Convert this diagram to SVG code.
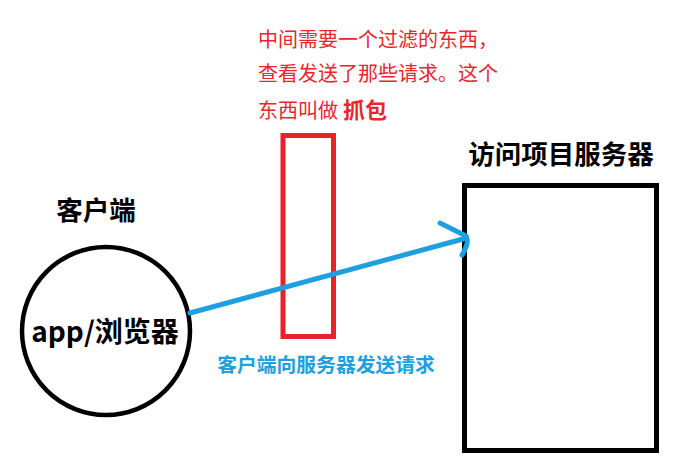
<svg xmlns="http://www.w3.org/2000/svg" width="698" height="471" viewBox="0 0 698 471">
<style>
  text { font-family: "Noto Sans CJK SC", "Noto Sans", sans-serif; }
  .note { fill: #e8262e; font-size: 20px; }
  .title { fill: #000; font-size: 26.5px; font-weight: bold; }
  .blue { fill: #1ea0e0; font-size: 19.8px; font-weight: bold; }
</style>
<rect width="698" height="471" fill="#fff"/>
<g id="note">
  <text class="note" x="258" y="47">中间需要一个过滤的东西，</text>
  <text class="note" x="258" y="81">查看发送了那些请求。这个</text>
  <text class="note" x="258" y="118">东西叫做</text>
  <text class="note" x="343" y="118" style="font-weight:bold;font-size:22px">抓包</text>
</g>
<g id="filter">
  <rect x="283" y="135.5" width="50.5" height="201" fill="none" stroke="#e8222a" stroke-width="5"/>
</g>
<g id="client">
  <text class="title" x="96" y="220" text-anchor="middle">客户端</text>
  <circle cx="106" cy="331" r="84" fill="none" stroke="#000" stroke-width="4.5"/>
  <text x="105" y="342" text-anchor="middle" style="font-size:28px;font-weight:bold;fill:#000">app/浏览器</text>
</g>
<g id="server">
  <text class="title" x="561" y="164" text-anchor="middle">访问项目服务器</text>
  <rect x="464.5" y="185.5" width="192" height="265" fill="none" stroke="#000" stroke-width="5"/>
</g>
<g id="connectors">
  <line x1="190" y1="313" x2="463" y2="239" stroke="#1ea0e0" stroke-width="5" stroke-linecap="round"/>
  <path d="M440 223 L466 236 Q470 242 462 255" fill="none" stroke="#1ea0e0" stroke-width="5" stroke-linecap="round" stroke-linejoin="round"/>
  <text class="blue" x="326" y="372" text-anchor="middle">客户端向服务器发送请求</text>
</g>
</svg>
